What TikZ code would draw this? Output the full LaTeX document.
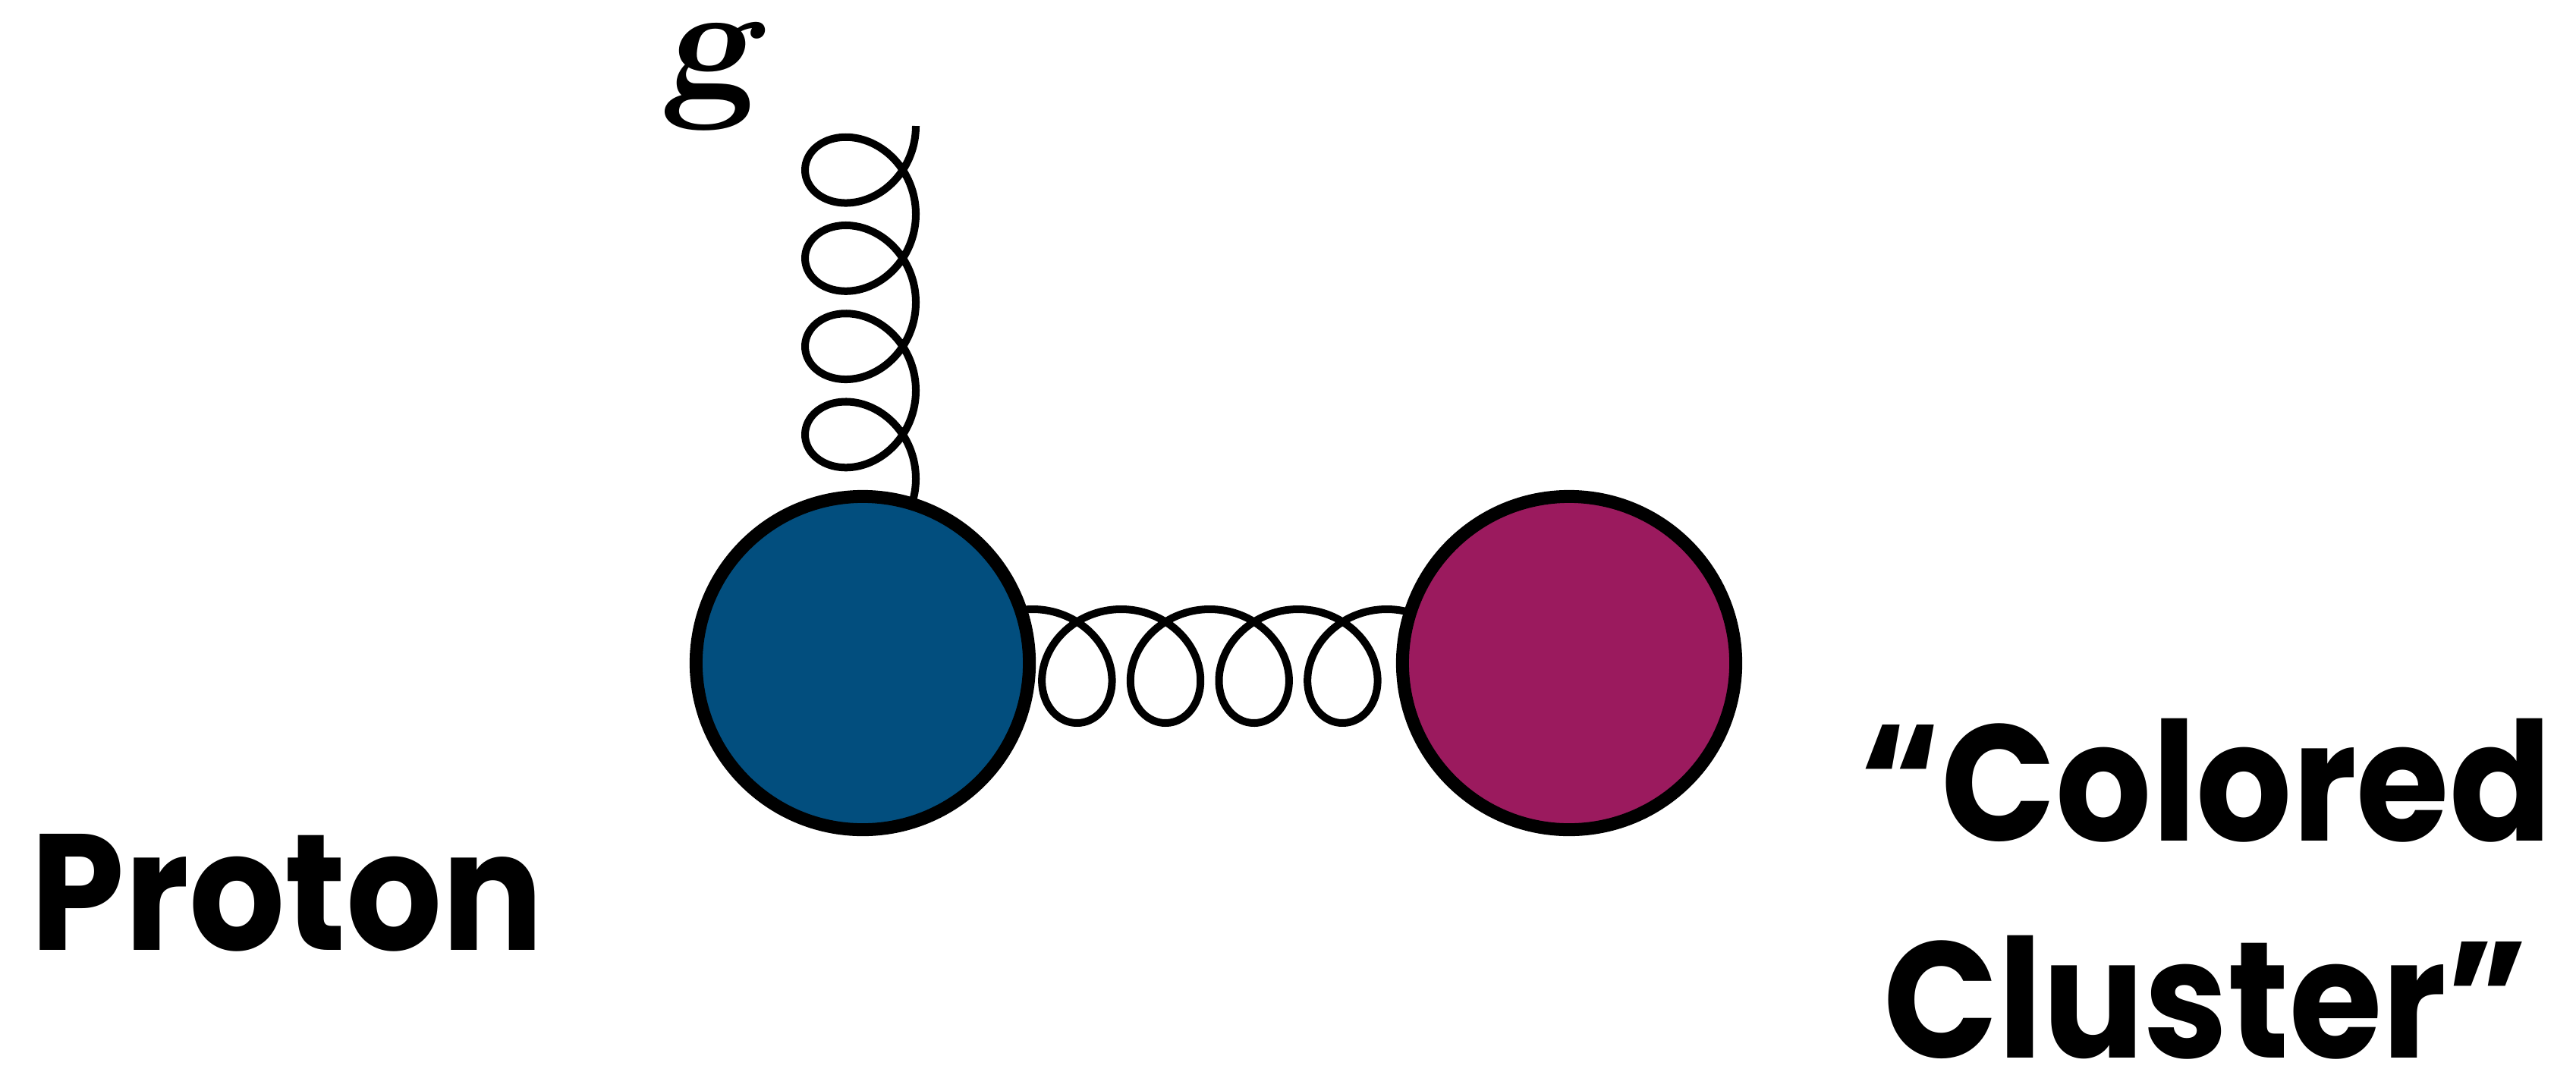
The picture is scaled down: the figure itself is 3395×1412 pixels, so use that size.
\documentclass[tikz,border=0pt]{standalone}
\usepackage{fontspec}
\usetikzlibrary{backgrounds}
\newfontfamily\labelfont{Poppins}[FakeStretch=0.91]
\definecolor{protonblue}{RGB}{2,78,126}
\definecolor{clusterpurple}{RGB}{155,26,94}

\begin{document}
\begin{tikzpicture}[x=0.01cm,y=-0.01cm,
  blob/.style={circle,draw=black,line width=0.17cm,minimum size=4.39cm,inner sep=0pt},
  gluon/.style={line width=0.1cm,line join=round},
  biglabel/.style={font=\labelfont\bfseries\fontsize{62}{74}\selectfont,inner sep=0pt}]

  \useasboundingbox (0,0) rectangle (3395,1412);

  \node[blob,fill=protonblue] (proton) at (1137,874) {};
  \node[blob,fill=clusterpurple] (cluster) at (2068,874) {};

  \begin{scope}[on background layer]
    \draw[gluon,shift={(proton.center)}] plot[smooth,domain=-17:1457,samples=400] ({224+0.3241*\x+73*sin(\x)},{4-75*cos(\x)});
    \draw[gluon,shift={(proton.center)}] plot[smooth,domain=-20:1440,samples=400] ({-3+73*cos(\x)},{-243-0.3229*\x-70*sin(\x)});
  \end{scope}

  \node[font=\bfseries\slshape\fontsize{62}{68}\selectfont,anchor=base west,inner sep=0pt] (glabel) at (872,128) {g};

  \node[biglabel,anchor=base west] (protonlabel) at (40,1252) {Proton};
  \node[biglabel,anchor=base] (coloredlabel) at (2907,1108) {“Colored};
  \node[biglabel,anchor=base] (clusterlabel) at (2907,1394) {Cluster”};

\end{tikzpicture}
\end{document}
